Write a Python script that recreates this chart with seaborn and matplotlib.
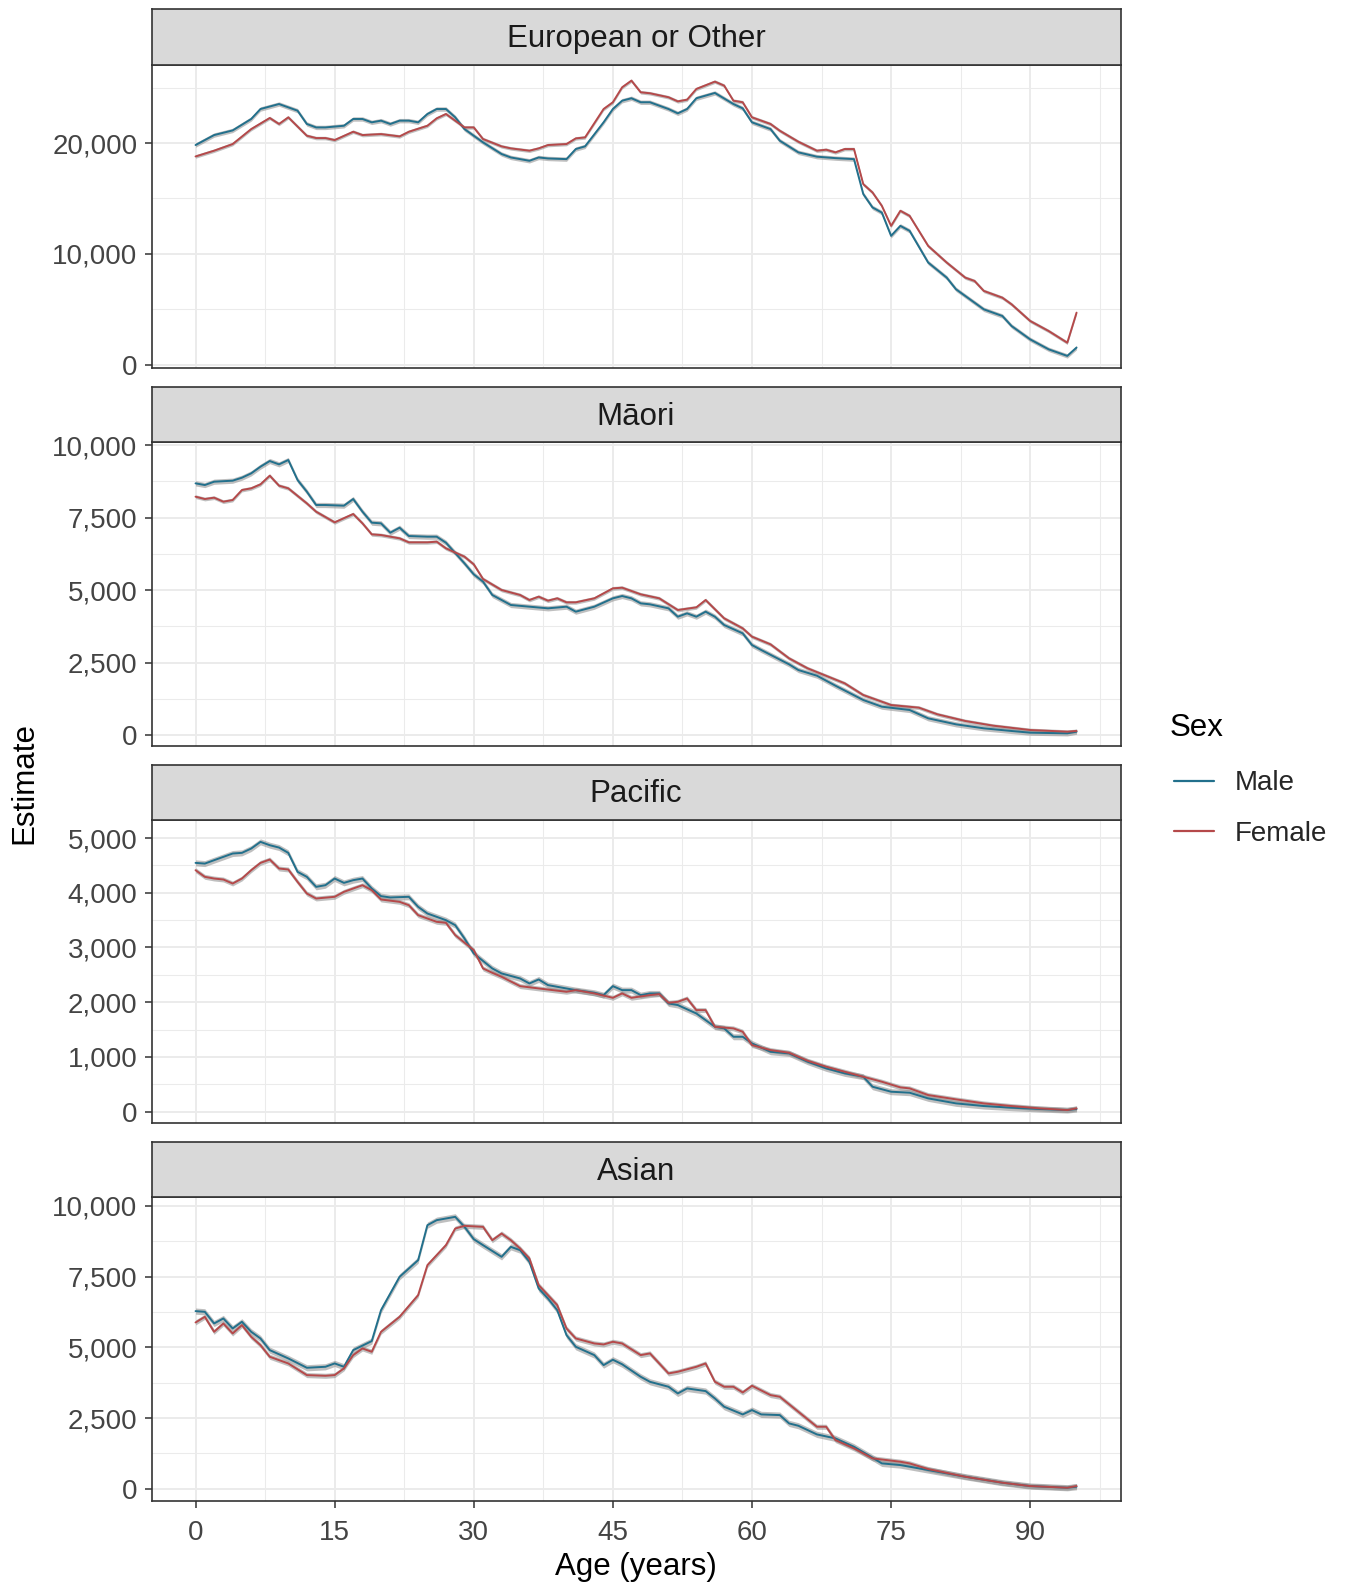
import numpy as np
import pandas as pd
import matplotlib
matplotlib.use("Agg")
import matplotlib.pyplot as plt
from matplotlib.ticker import FuncFormatter, MultipleLocator, FixedLocator
import seaborn as sns

# ---------------- data ----------------
panels = ["European or Other", "Māori", "Pacific", "Asian"]
sexes = ["Male", "Female"]

euro_male_age = [0, 2, 4, 6, 7, 9, 11, 12, 13, 14, 16, 17, 18, 19, 20, 21, 22, 23, 24, 25, 26, 27, 28, 29, 30, 31, 33, 34, 36, 37, 38, 40, 41, 42, 44, 45, 46, 47, 48, 49, 51, 52, 53, 54, 56, 58, 59, 60, 62, 63, 65, 67, 69, 71, 72, 73, 74, 75, 76, 77, 79, 81, 82, 85, 87, 88, 90, 92, 94, 95]
euro_male_est = [19820, 20720, 21140, 22170, 23070, 23520, 22920, 21720, 21410, 21410, 21560, 22170, 22170, 21870, 22020, 21720, 22020, 22020, 21870, 22620, 23070, 23070, 22320, 21260, 20660, 20060, 19010, 18700, 18400, 18700, 18610, 18550, 19460, 19700, 21870, 23070, 23820, 24040, 23680, 23680, 23070, 22680, 23070, 24040, 24520, 23520, 23130, 21870, 21260, 20210, 19160, 18770, 18640, 18550, 15400, 14190, 13730, 11630, 12530, 12080, 9220, 7860, 6810, 5000, 4400, 3490, 2290, 1390, 800, 1550]
euro_female_age = [0, 2, 4, 6, 8, 9, 10, 12, 13, 14, 15, 17, 18, 20, 22, 23, 25, 26, 27, 29, 30, 31, 33, 34, 36, 37, 38, 40, 41, 42, 44, 45, 46, 47, 48, 49, 51, 52, 53, 54, 56, 57, 58, 59, 60, 62, 63, 65, 67, 68, 69, 70, 71, 72, 73, 74, 75, 76, 77, 79, 81, 83, 84, 85, 87, 88, 90, 92, 94, 95]
euro_female_est = [18790, 19310, 19910, 21260, 22260, 21720, 22320, 20660, 20450, 20450, 20270, 21020, 20720, 20810, 20600, 21020, 21560, 22230, 22620, 21410, 21410, 20360, 19700, 19520, 19310, 19520, 19820, 19910, 20420, 20510, 23070, 23680, 25030, 25630, 24580, 24490, 24130, 23760, 23910, 24880, 25540, 25180, 23820, 23680, 22320, 21720, 21110, 20120, 19310, 19400, 19160, 19460, 19460, 16290, 15540, 14340, 12530, 13890, 13430, 10720, 9220, 7860, 7560, 6660, 6050, 5450, 3950, 3040, 1990, 4700]

maori_male_age = [0, 1, 2, 4, 5, 6, 7, 8, 9, 10, 11, 12, 13, 14, 16, 17, 18, 19, 20, 21, 22, 23, 25, 26, 27, 29, 30, 31, 32, 34, 36, 38, 40, 41, 43, 45, 46, 47, 48, 49, 51, 52, 53, 54, 55, 56, 57, 59, 60, 61, 64, 65, 67, 69, 72, 74, 77, 79, 82, 85, 88, 90, 94, 95]
maori_male_est = [8678, 8620, 8735, 8770, 8873, 9023, 9253, 9448, 9333, 9483, 8793, 8391, 7931, 7931, 7908, 8138, 7701, 7322, 7299, 6977, 7149, 6862, 6839, 6839, 6632, 5919, 5540, 5287, 4828, 4483, 4425, 4368, 4425, 4253, 4425, 4713, 4793, 4713, 4540, 4506, 4368, 4080, 4195, 4080, 4253, 4080, 3793, 3506, 3103, 2931, 2437, 2241, 2046, 1701, 1207, 977, 862, 575, 368, 230, 138, 80, 57, 115]
maori_female_age = [0, 1, 2, 3, 4, 5, 6, 7, 8, 9, 10, 12, 13, 15, 17, 18, 19, 20, 22, 23, 25, 26, 27, 29, 30, 31, 33, 35, 36, 37, 38, 39, 40, 41, 43, 45, 46, 47, 48, 50, 52, 54, 55, 57, 59, 60, 62, 64, 66, 70, 72, 75, 78, 80, 83, 86, 90, 94, 95]
maori_female_est = [8218, 8138, 8184, 8046, 8103, 8448, 8506, 8644, 8943, 8598, 8506, 7988, 7701, 7333, 7621, 7299, 6919, 6896, 6782, 6644, 6644, 6667, 6437, 6149, 5885, 5379, 5000, 4828, 4655, 4770, 4632, 4713, 4575, 4575, 4713, 5057, 5080, 4966, 4851, 4713, 4310, 4402, 4655, 4023, 3678, 3391, 3126, 2644, 2299, 1782, 1379, 1034, 943, 713, 483, 322, 172, 115, 138]

pacific_male_age = [0, 1, 2, 3, 4, 5, 6, 7, 8, 9, 10, 11, 12, 13, 14, 15, 16, 17, 18, 19, 20, 21, 23, 24, 25, 27, 28, 29, 30, 32, 33, 35, 36, 37, 38, 39, 41, 43, 44, 45, 46, 47, 48, 49, 50, 51, 52, 54, 56, 57, 58, 59, 60, 62, 64, 66, 68, 70, 72, 73, 75, 77, 79, 82, 85, 88, 91, 94, 95]
pacific_male_est = [4546, 4533, 4595, 4656, 4717, 4729, 4808, 4930, 4869, 4826, 4729, 4382, 4291, 4108, 4138, 4260, 4181, 4230, 4260, 4078, 3938, 3914, 3926, 3743, 3621, 3499, 3408, 3165, 2891, 2617, 2526, 2434, 2343, 2416, 2313, 2282, 2221, 2173, 2130, 2294, 2221, 2221, 2130, 2161, 2161, 1978, 1948, 1795, 1552, 1522, 1369, 1369, 1248, 1095, 1065, 913, 791, 700, 639, 456, 365, 347, 243, 152, 103, 73, 49, 30, 49]
pacific_female_age = [0, 1, 2, 3, 4, 5, 6, 7, 8, 9, 10, 11, 12, 13, 15, 16, 17, 18, 19, 20, 22, 23, 24, 26, 27, 28, 30, 31, 32, 33, 35, 37, 40, 41, 43, 45, 46, 47, 49, 50, 51, 52, 53, 54, 55, 56, 58, 59, 60, 62, 64, 66, 68, 70, 72, 74, 76, 77, 79, 82, 85, 88, 91, 94, 95]
pacific_female_est = [4412, 4291, 4260, 4242, 4169, 4260, 4412, 4546, 4607, 4443, 4425, 4199, 3986, 3895, 3926, 4017, 4078, 4138, 4047, 3877, 3834, 3773, 3591, 3469, 3451, 3226, 2952, 2617, 2538, 2465, 2294, 2252, 2191, 2221, 2161, 2081, 2161, 2081, 2130, 2148, 1990, 2008, 2069, 1856, 1856, 1552, 1522, 1461, 1217, 1126, 1077, 931, 822, 730, 639, 548, 444, 426, 304, 225, 152, 103, 61, 30, 61]

asian_male_age = [0, 1, 2, 3, 4, 5, 6, 7, 8, 10, 12, 14, 15, 16, 17, 19, 20, 22, 24, 25, 26, 27, 28, 29, 30, 31, 33, 34, 35, 36, 37, 38, 39, 40, 41, 43, 44, 45, 46, 48, 49, 51, 52, 53, 55, 56, 57, 59, 60, 61, 63, 64, 65, 67, 69, 71, 73, 74, 76, 79, 83, 87, 90, 94, 95]
asian_male_est = [6279, 6255, 5843, 6020, 5666, 5902, 5548, 5313, 4900, 4606, 4276, 4311, 4429, 4311, 4900, 5219, 6314, 7492, 8081, 9318, 9495, 9554, 9613, 9259, 8823, 8611, 8199, 8552, 8434, 8022, 7080, 6726, 6314, 5431, 5018, 4724, 4370, 4560, 4400, 3958, 3780, 3605, 3369, 3546, 3452, 3192, 2898, 2627, 2780, 2627, 2603, 2309, 2226, 1920, 1779, 1484, 1096, 895, 836, 660, 424, 212, 94, 35, 71]
asian_female_age = [0, 1, 2, 3, 4, 5, 6, 7, 8, 10, 12, 14, 15, 16, 17, 18, 19, 20, 22, 24, 25, 27, 28, 29, 31, 32, 33, 34, 35, 36, 37, 39, 40, 41, 43, 44, 45, 46, 48, 49, 51, 52, 54, 55, 56, 57, 58, 59, 60, 62, 63, 65, 67, 68, 69, 71, 73, 76, 77, 79, 83, 87, 90, 94, 95]
asian_female_est = [5878, 6078, 5548, 5843, 5489, 5784, 5372, 5077, 4665, 4429, 4017, 3993, 4017, 4253, 4724, 4959, 4842, 5548, 6078, 6844, 7904, 8611, 9200, 9294, 9259, 8787, 9023, 8787, 8493, 8140, 7198, 6491, 5666, 5313, 5136, 5101, 5195, 5136, 4724, 4783, 4076, 4135, 4311, 4429, 3781, 3605, 3605, 3404, 3640, 3310, 3251, 2721, 2191, 2191, 1720, 1425, 1072, 954, 895, 695, 424, 212, 94, 35, 94]

# approximate half-width of the grey confidence ribbon per series
ci_halfwidth = {
    ("European or Other", "Male"): 200, ("European or Other", "Female"): 160,
    ("Māori", "Male"): 90, ("Māori", "Female"): 65,
    ("Pacific", "Male"): 55, ("Pacific", "Female"): 45,
    ("Asian", "Male"): 110, ("Asian", "Female"): 90,
}

series = {
    ("European or Other", "Male"): (euro_male_age, euro_male_est),
    ("European or Other", "Female"): (euro_female_age, euro_female_est),
    ("Māori", "Male"): (maori_male_age, maori_male_est),
    ("Māori", "Female"): (maori_female_age, maori_female_est),
    ("Pacific", "Male"): (pacific_male_age, pacific_male_est),
    ("Pacific", "Female"): (pacific_female_age, pacific_female_est),
    ("Asian", "Male"): (asian_male_age, asian_male_est),
    ("Asian", "Female"): (asian_female_age, asian_female_est),
}

y_limits = {"European or Other": (-300, 27076), "Māori": (-369, 10097),
            "Pacific": (-212, 5333), "Asian": (-431, 10300)}
y_major = {"European or Other": 10000, "Māori": 2500, "Pacific": 1000, "Asian": 2500}
x_ticks = [0, 15, 30, 45, 60, 75, 90]

rows = []
for (eth, sex), (ages, ests) in series.items():
    hw = ci_halfwidth[(eth, sex)]
    for a, e in zip(ages, ests):
        rows.append({"Ethnicity": eth, "Sex": sex, "Age": a, "Estimate": e,
                     "lo": e - hw, "hi": e + hw})
df = pd.DataFrame(rows)

palette = {"Male": "#22708C", "Female": "#B5494A"}

# ---------------- figure ----------------
sns.set_theme(style="white")
plt.rcParams["font.family"] = ["Liberation Sans", "DejaVu Sans"]

W, H = 1346, 1585
fig = plt.figure(figsize=(W / 100, H / 100), dpi=100)

left_px, right_px = 151.5, 1120.6
strip_h, panel_h, pitch, top0 = 55.3, 303.5, 377.6, 9.3
border = "#333333"

handles = None
for i, eth in enumerate(panels):
    st = top0 + i * pitch
    sb = st + strip_h
    pb = sb + panel_h
    ax = fig.add_axes([left_px / W, 1 - pb / H, (right_px - left_px) / W, panel_h / H])
    sax = fig.add_axes([left_px / W, 1 - sb / H, (right_px - left_px) / W, strip_h / H])

    sub = df[df["Ethnicity"] == eth]
    for sex in sexes:
        s = sub[sub["Sex"] == sex]
        ax.fill_between(s["Age"], s["lo"], s["hi"], color="#8c8c8c", alpha=0.55,
                        linewidth=0, zorder=2)
    sns.lineplot(data=sub, x="Age", y="Estimate", hue="Sex", hue_order=sexes,
                 palette=palette, estimator=None, errorbar=None, linewidth=1.4,
                 ax=ax, legend=(i == 0), zorder=3)
    if i == 0:
        handles, labels = ax.get_legend_handles_labels()
        ax.get_legend().remove()

    ax.set_xlim(-4.75, 99.75)
    ax.set_ylim(*y_limits[eth])
    ax.xaxis.set_major_locator(FixedLocator(x_ticks))
    ax.xaxis.set_minor_locator(FixedLocator([7.5, 22.5, 37.5, 52.5, 67.5, 82.5, 97.5]))
    ax.yaxis.set_major_locator(MultipleLocator(y_major[eth]))
    ax.yaxis.set_minor_locator(MultipleLocator(y_major[eth] / 2))
    ax.yaxis.set_major_formatter(FuncFormatter(lambda v, p: f"{v:,.0f}"))
    ax.grid(which="major", color="#EBEBEB", linewidth=1.4, zorder=0)
    ax.grid(which="minor", color="#EBEBEB", linewidth=0.75, zorder=0)
    ax.set_axisbelow(True)
    ax.set_xlabel("")
    ax.set_ylabel("")
    for sp in ax.spines.values():
        sp.set_color(border)
        sp.set_linewidth(1.2)
    ax.tick_params(which="major", direction="out", length=5, width=1.1, color=border,
                   labelsize=20, labelcolor="#444444", pad=5)
    ax.tick_params(axis="x", pad=9)
    ax.tick_params(which="minor", length=0)
    ax.tick_params(axis="x", bottom=(i == 3), labelbottom=(i == 3))
    ax.tick_params(axis="y", left=True)

    sax.set_facecolor("#D9D9D9")
    sax.set_xticks([])
    sax.set_yticks([])
    for sp in sax.spines.values():
        sp.set_color(border)
        sp.set_linewidth(1.2)
    sax.text(0.5, 0.46, eth, transform=sax.transAxes, ha="center", va="center",
             fontsize=22.5, color="#1A1A1A")

fig.text((left_px + right_px) / 2 / W, 1 - 1567 / H, "Age (years)", ha="center",
         va="center", fontsize=22.5, color="black")
fig.text(24.5 / W, 1 - 783 / H, "Estimate", ha="center", va="center", rotation=90,
         fontsize=22.5, color="black")

# legend: title as text, entries as a figure legend
fig.text(1170 / W, 1 - 728 / H, "Sex", ha="left", va="center", fontsize=22.5,
         color="black")
leg = fig.legend(handles, labels, loc="center left",
                 bbox_to_anchor=(1174 / W, 1 - 808.5 / H), frameon=False,
                 borderaxespad=0, borderpad=0,
                 fontsize=20, handlelength=1.45, handletextpad=0.72,
                 labelspacing=0.88)
for ln in leg.get_lines():
    ln.set_linewidth(1.6)

fig.savefig("out.png", dpi=100)
